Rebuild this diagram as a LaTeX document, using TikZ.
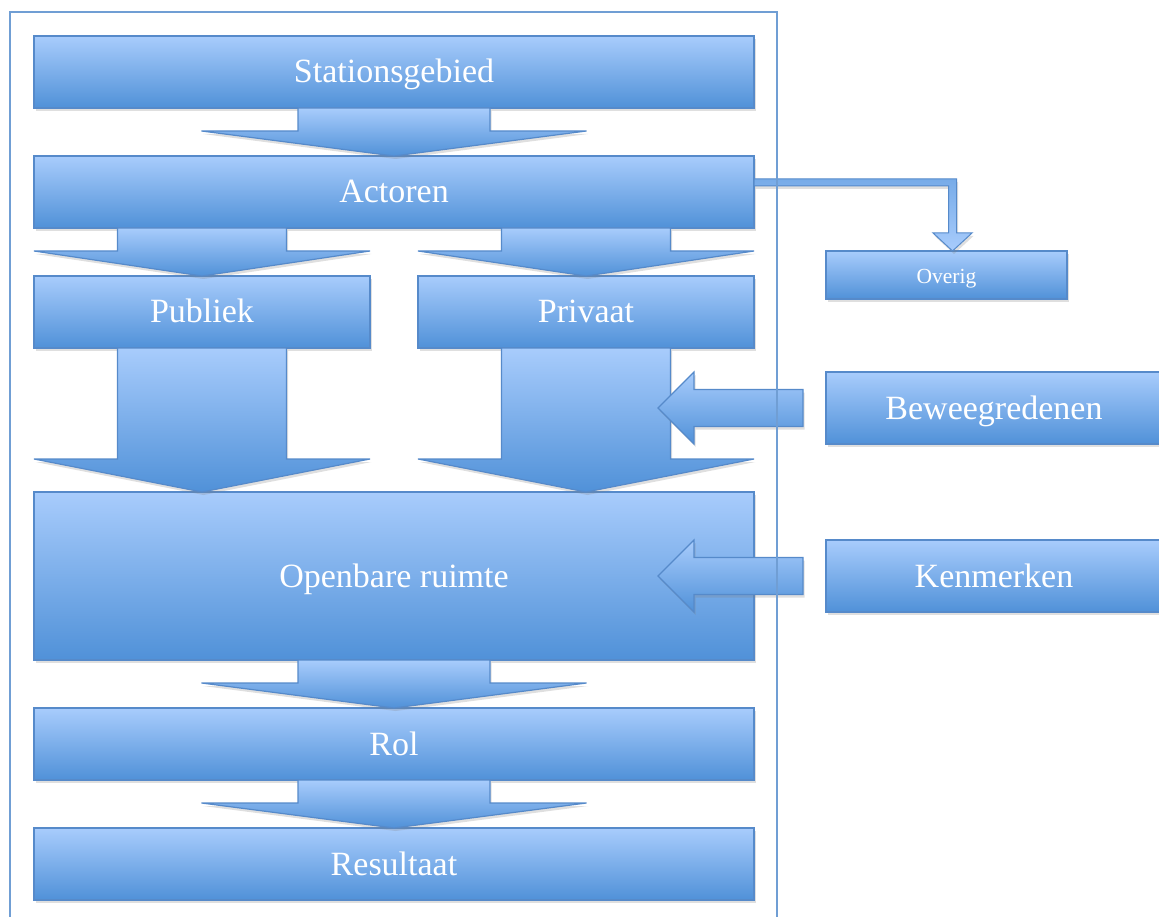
\documentclass[tikz,border=0pt]{standalone}
\usepackage{fontspec}
\setmainfont{Liberation Serif}
\usetikzlibrary{calc,shadows}
\definecolor{gtop}{RGB}{168,204,252}
\definecolor{gbot}{RGB}{80,145,216}
\definecolor{bline}{RGB}{86,138,202}
\definecolor{frameblue}{RGB}{112,158,212}
\newcommand\downblock[6]{% from, to, stem half, head half, head height, node giving x
  \path[blockarrow] let \p1=(#2.north), \p2=(#1.south), \p3=(#6.center) in
   (\x3-#3pt,\y2) -- (\x3+#3pt,\y2) -- (\x3+#3pt,\y1+#5pt) -- (\x3+#4pt,\y1+#5pt)
   -- (\x3,\y1) -- (\x3-#4pt,\y1+#5pt) -- (\x3-#3pt,\y1+#5pt) -- cycle;}
\newcommand\leftblock[6]{% from, tip, gap, stem half, head half, head length
  \path[blockarrow] let \p1=(#1.west), \p2=(#2) in
   (\x1-#3pt,\y1+#4pt) -- (\x2+#6pt,\y1+#4pt) -- (\x2+#6pt,\y1+#5pt) -- (\x2,\y1)
   -- (\x2+#6pt,\y1-#5pt) -- (\x2+#6pt,\y1-#4pt) -- (\x1-#3pt,\y1-#4pt) -- cycle;}
\begin{document}
\begin{tikzpicture}[x=1pt,y=1pt,
  shade/.style={draw=bline, line width=1.2pt, top color=gtop, bottom color=gbot,
    drop shadow={opacity=0.25, shadow xshift=1.5pt, shadow yshift=-3pt}},
  box/.style={shade, text=white, inner sep=0pt, outer sep=0pt,
    font=\fontsize{34}{40}\selectfont, text height=25.5pt, text depth=3.5pt},
  smallbox/.style={box, font=\fontsize{21.5}{25}\selectfont, text height=20pt, text depth=3pt},
  blockarrow/.style={shade, line join=miter},
]
\useasboundingbox (0,0) rectangle (1159,-917);

\node[box, minimum width=720pt, minimum height=72pt]  (st)  at (394,-72)  {Stationsgebied};
\node[box, minimum width=720pt, minimum height=72pt]  (ac)  at (394,-192) {Actoren};
\node[box, minimum width=336pt, minimum height=72pt]  (pu)  at (202,-312) {Publiek};
\node[box, minimum width=336pt, minimum height=72pt]  (pr)  at (586,-312) {Privaat};
\node[box, minimum width=720pt, minimum height=168pt] (orr) at (394,-576) {Openbare ruimte};
\node[box, minimum width=720pt, minimum height=72pt]  (rol) at (394,-744) {Rol};
\node[box, minimum width=720pt, minimum height=72pt]  (res) at (394,-864) {Resultaat};
\node[smallbox, minimum width=241pt, minimum height=48pt] (ov) at (946.5,-275) {Overig};
\node[box, minimum width=336pt, minimum height=72pt]  (bw)  at (994,-408) {Beweegredenen};
\node[box, minimum width=336pt, minimum height=72pt]  (km)  at (994,-576) {Kenmerken};

\coordinate (bwtip) at (658,-408);
\coordinate (kmtip) at (658,-576);

\downblock{st}{ac}{96}{192.5}{25}{st}
\downblock{ac}{pu}{84.5}{168}{25}{pu}
\downblock{ac}{pr}{84.5}{168}{25}{pr}
\downblock{pu}{orr}{84.5}{168}{33}{pu}
\downblock{pr}{orr}{84.5}{168}{33}{pr}
\downblock{orr}{rol}{96}{192.5}{25}{rol}
\downblock{rol}{res}{96}{192.5}{25}{res}

\leftblock{bw}{bwtip}{23}{18.5}{36}{36}
\leftblock{km}{kmtip}{23}{18.5}{36}{36}

\path[blockarrow, line width=1pt, top color=gtop!45!gbot, bottom color=gtop] let \p1=(ac.east), \p2=($(ov.north)+(6,0)$) in
  (\x1,\y1+13pt) -- (\x2+4pt,\y1+13pt) -- (\x2+4pt,\y2+18pt) -- (\x2+19.5pt,\y2+18pt)
  -- (\x2,\y2) -- (\x2-19.5pt,\y2+18pt) -- (\x2-4pt,\y2+18pt) -- (\x2-4pt,\y1+6pt)
  -- (\x1,\y1+6pt) -- cycle;

\draw[frameblue, line width=1.3pt] (10,-12) rectangle (777,-940);
\end{tikzpicture}
\end{document}
